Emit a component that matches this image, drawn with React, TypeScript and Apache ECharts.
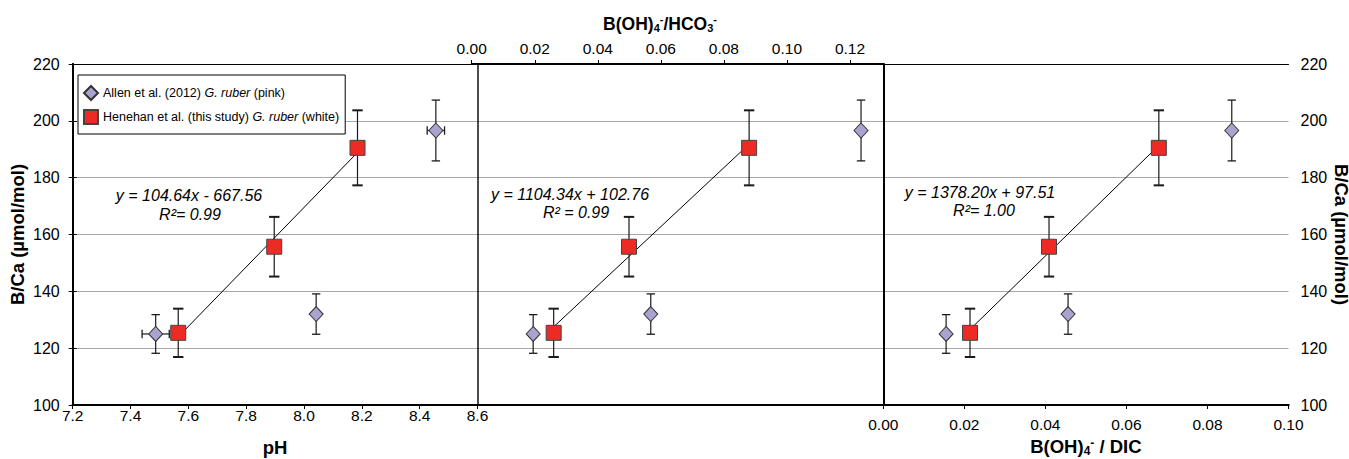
import React, { useEffect, useRef } from "react";
import * as echarts from "echarts";

const FONT = "'Liberation Sans', Arial, Helvetica, sans-serif";

// ---- Data ----
const allenName = "Allen et al. (2012) G. ruber (pink)";
const henehanName = "Henehan et al. (this study) G. ruber (white)";

const henehanBCa = [125.4, 155.7, 190.5];
const henehanErr = [8.5, 10.5, 13.2];
const henehanPH = [7.565, 7.897, 8.185];
const henehanBorHco3 = [0.026, 0.0499, 0.088];
const henehanBorDic = [0.0214, 0.0409, 0.068];

const allenBCa = [125.0, 132.0, 196.6];
const allenErr = [6.8, 7.1, 10.7];
const allenPH = [7.487, 8.042, 8.456];
const allenPHErr = [0.047, 0, 0.03];
const allenBorHco3 = [0.0195, 0.0568, 0.1235];
const allenBorDic = [0.0155, 0.0456, 0.086];

const eqLines = ["y = 104.64x - 667.56", "y = 1104.34x + 102.76", "y = 1378.20x + 97.51"];
const r2Lines = ["R²= 0.99", "R² = 0.99", "R²= 1.00"];

const yMin = 100;
const yMax = 220;
const yStep = 20;

function fit(xs: number[], ys: number[]) {
  const n = xs.length;
  const mx = xs.reduce((a, b) => a + b, 0) / n;
  const my = ys.reduce((a, b) => a + b, 0) / n;
  let sxy = 0;
  let sxx = 0;
  for (let i = 0; i < n; i++) {
    sxy += (xs[i] - mx) * (ys[i] - my);
    sxx += (xs[i] - mx) * (xs[i] - mx);
  }
  const slope = sxy / sxx;
  const icpt = my - slope * mx;
  const x0 = Math.min(...xs);
  const x1 = Math.max(...xs);
  return [
    [x0, slope * x0 + icpt],
    [x1, slope * x1 + icpt],
  ];
}

function errRender(capHalf: number, capWidth: number) {
  return (params: any, api: any) => {
    const x = api.value(0);
    const y = api.value(1);
    const ey = api.value(2);
    const ex = api.value(3);
    const top = api.coord([x, y + ey]);
    const bot = api.coord([x, y - ey]);
    const stem = { stroke: "#1a1a1a", lineWidth: 1.2 };
    const capS = { stroke: "#1a1a1a", lineWidth: capWidth };
    const children: any[] = [
      { type: "line", shape: { x1: top[0], y1: top[1], x2: bot[0], y2: bot[1] }, style: stem },
      { type: "line", shape: { x1: top[0] - capHalf, y1: top[1], x2: top[0] + capHalf, y2: top[1] }, style: capS },
      { type: "line", shape: { x1: bot[0] - capHalf, y1: bot[1], x2: bot[0] + capHalf, y2: bot[1] }, style: capS },
    ];
    if (ex > 0) {
      const l = api.coord([x - ex, y]);
      const r = api.coord([x + ex, y]);
      children.push(
        { type: "line", shape: { x1: l[0], y1: l[1], x2: r[0], y2: r[1] }, style: stem },
        { type: "line", shape: { x1: l[0], y1: l[1] - capHalf, x2: l[0], y2: l[1] + capHalf }, style: capS },
        { type: "line", shape: { x1: r[0], y1: r[1] - capHalf, x2: r[0], y2: r[1] + capHalf }, style: capS }
      );
    }
    return { type: "group", children };
  };
}

function subRich(main: number, small: number) {
  return {
    b: { fontSize: main, fontWeight: "bold", fontFamily: FONT, lineHeight: 20, fill: "#000", color: "#000" },
    sub: { fontSize: small, fontWeight: "bold", fontFamily: FONT, lineHeight: 10, verticalAlign: "bottom", fill: "#000", color: "#000" },
    sup: { fontSize: small, fontWeight: "bold", fontFamily: FONT, lineHeight: 10, verticalAlign: "top", fill: "#000", color: "#000" },
  };
}

export default function App() {
  const ref = useRef<HTMLDivElement>(null);

  useEffect(() => {
    if (!ref.current) return;
    const chart = echarts.init(ref.current, undefined, { renderer: "svg" });

    const top = 64;
    const h = 341;
    const x0 = 72.7;
    const xDiv1 = 477.5;
    const xTop0 = 471.7;
    const xDiv2 = 883.3;
    const xRight = 1288.5;
    const topAxisMax = (xDiv2 - xTop0) / ((850 - xTop0) / 0.12);

    const panels = [
      { hx: henehanPH, ax: allenPH, axErr: allenPHErr },
      { hx: henehanBorHco3, ax: allenBorHco3, axErr: [0, 0, 0] },
      { hx: henehanBorDic, ax: allenBorDic, axErr: [0, 0, 0] },
    ];

    const series: any[] = [];
    panels.forEach((p, i) => {
      const xi = i + 2;
      series.push({
        type: "line",
        xAxisIndex: xi,
        yAxisIndex: xi,
        data: fit(p.hx, henehanBCa),
        symbol: "none",
        silent: true,
        lineStyle: { color: "#000", width: 1 },
        z: 2,
      });
      series.push({
        type: "custom",
        xAxisIndex: xi,
        yAxisIndex: xi,
        renderItem: errRender(4.2, 1.3),
        data: p.ax.map((x, k) => [x, allenBCa[k], allenErr[k], p.axErr[k]]),
        encode: { x: 0, y: 1 },
        silent: true,
        z: 3,
      });
      series.push({
        type: "custom",
        xAxisIndex: xi,
        yAxisIndex: xi,
        renderItem: errRender(5.2, 2),
        data: p.hx.map((x, k) => [x, henehanBCa[k], henehanErr[k], 0]),
        encode: { x: 0, y: 1 },
        silent: true,
        z: 3,
      });
      series.push({
        type: "scatter",
        name: allenName,
        xAxisIndex: xi,
        yAxisIndex: xi,
        data: p.ax.map((x, k) => [x, allenBCa[k]]),
        symbol: "diamond",
        symbolSize: [14, 15],
        itemStyle: { color: "#AAA3CF", borderColor: "#333", borderWidth: 1, opacity: 1 },
        z: 4,
      });
      series.push({
        type: "scatter",
        name: henehanName,
        xAxisIndex: xi,
        yAxisIndex: xi,
        data: p.hx.map((x, k) => [x, henehanBCa[k]]),
        symbol: "rect",
        symbolSize: 15,
        itemStyle: { color: "#EE2A24", borderColor: "#444", borderWidth: 1, opacity: 1 },
        z: 5,
      });
    });

    const hidden = { show: false };
    const yBase = { type: "value", min: yMin, max: yMax, interval: yStep };

    const graphics: any[] = [];
    const eqPos = [
      [189, 195, 190, 214],
      [570, 194, 576, 212],
      [980, 192, 984, 210],
    ];
    eqPos.forEach((pp, i) => {
      graphics.push({
        type: "text",
        x: pp[0],
        y: pp[1],
        z: 10,
        style: { text: eqLines[i], fill: "#000", fontSize: 16, fontStyle: "italic", fontFamily: FONT, align: "center", verticalAlign: "middle" },
      });
      graphics.push({
        type: "text",
        x: pp[2],
        y: pp[3],
        z: 10,
        style: { text: r2Lines[i], fill: "#000", fontSize: 16, fontStyle: "italic", fontFamily: FONT, align: "center", verticalAlign: "middle" },
      });
    });
    // top axis title, centred over the 0.00–0.12 tick range
    graphics.push({
      type: "text",
      x: 660,
      y: 23.5,
      z: 10,
      style: {
        text: "{b|B(OH)}{sub|4}{sup|-}{b|/HCO}{sub|3}{sup|-}",
        rich: subRich(17.5, 11),
        fill: "#000",
        fontSize: 17.5,
        fontWeight: "bold",
        fontFamily: FONT,
        align: "center",
        verticalAlign: "middle",
      },
    });

    const axTitle = { fontSize: 18.5, fontWeight: "bold", color: "#000" };
    const yTitle = { fontSize: 18.5, fontWeight: "bold", color: "#000", lineHeight: 18 };
    const yTitleR = { fontSize: 18.5, fontWeight: "bold", color: "#000", lineHeight: 14 };
    const gridBase = { top, height: h, containLabel: false, outerBoundsMode: "none" };

    chart.setOption({
      animation: false,
      backgroundColor: "#fff",
      textStyle: { fontFamily: FONT, color: "#000" },
      grid: [
        { ...gridBase, left: x0, width: xRight - x0 },
        { ...gridBase, left: x0, width: xDiv1 - x0 },
        { ...gridBase, left: xTop0, width: xDiv2 - xTop0 },
        { ...gridBase, left: xDiv2, width: xRight - xDiv2 },
      ],
      legend: {
        left: 78,
        top: 75,
        orient: "vertical",
        itemWidth: 14,
        itemHeight: 14,
        itemGap: 8,
        padding: [10, 6, 9, 5],
        borderColor: "#000",
        borderWidth: 1,
        backgroundColor: "#fff",
        selectedMode: false,
        z: 20,
        data: [
          { name: allenName, icon: "diamond" },
          { name: henehanName, icon: "rect" },
        ],
        formatter: (name: string) =>
          name === allenName
            ? "Allen et al. (2012) {i|G. ruber} (pink)"
            : "Henehan et al. (this study) {i|G. ruber} (white)",
        textStyle: {
          fontSize: 12.5,
          fontFamily: FONT,
          color: "#000",
          rich: { i: { fontSize: 12.5, fontStyle: "italic", fontFamily: FONT, color: "#000" } },
        },
      },
      xAxis: [
        {
          gridIndex: 0,
          type: "value",
          min: 0,
          max: 1,
          position: "bottom",
          axisLine: { show: true, lineStyle: { color: "#000", width: 2 } },
          axisTick: hidden,
          axisLabel: hidden,
          splitLine: hidden,
        },
        {
          gridIndex: 0,
          type: "value",
          min: 0,
          max: 1,
          position: "top",
          axisLine: { show: true, lineStyle: { color: "#000", width: 1 } },
          axisTick: hidden,
          axisLabel: hidden,
          splitLine: hidden,
        },
        {
          gridIndex: 1,
          type: "value",
          min: 7.2,
          max: 8.6,
          interval: 0.2,
          position: "bottom",
          axisLine: { show: true, lineStyle: { color: "#000", width: 2 } },
          axisTick: { show: true, length: 4, lineStyle: { color: "#000" } },
          axisLabel: { fontSize: 15.5, margin: 3, lineHeight: 15, color: "#000", formatter: (v: number) => v.toFixed(1) },
          splitLine: hidden,
          name: "pH",
          nameLocation: "middle",
          nameGap: 33,
          nameMoveOverlap: false,
          nameTextStyle: axTitle,
        },
        {
          gridIndex: 2,
          type: "value",
          min: 0,
          max: topAxisMax,
          interval: 0.02,
          position: "top",
          axisLine: { show: true, lineStyle: { color: "#000", width: 2 } },
          axisTick: { show: true, length: 4, lineStyle: { color: "#000" } },
          axisLabel: {
            fontSize: 15.5,
            margin: 8,
            lineHeight: 15,
            color: "#000",
            showMaxLabel: false,
            formatter: (v: number) => (Math.abs(v / 0.02 - Math.round(v / 0.02)) < 1e-6 ? v.toFixed(2) : ""),
          },
          splitLine: hidden,
        },
        {
          gridIndex: 3,
          type: "value",
          min: 0,
          max: 0.1,
          interval: 0.02,
          position: "bottom",
          axisLine: { show: true, lineStyle: { color: "#000", width: 2 } },
          axisTick: { show: true, length: 4, lineStyle: { color: "#000" } },
          axisLabel: { fontSize: 15.5, margin: 11.5, lineHeight: 15, color: "#000", formatter: (v: number) => v.toFixed(2) },
          splitLine: hidden,
          name: "{b|B(OH)}{sub|4}{sup|-}{b| / DIC}",
          nameLocation: "middle",
          nameGap: 31.5,
          nameMoveOverlap: false,
          nameTextStyle: { ...axTitle, lineHeight: 20, rich: subRich(18.5, 12) },
        },
      ],
      yAxis: [
        {
          ...yBase,
          gridIndex: 0,
          position: "left",
          axisLine: { show: true, lineStyle: { color: "#000", width: 2 } },
          axisTick: { show: true, length: 4, lineStyle: { color: "#000" } },
          axisLabel: { fontSize: 16, margin: 13, lineHeight: 14, color: "#000" },
          splitLine: { show: true, lineStyle: { color: "#a8a8a8", width: 1.2 } },
          name: "B/Ca (µmol/mol)",
          nameLocation: "middle",
          nameGap: 46,
          nameMoveOverlap: false,
          nameRotate: 90,
          nameTextStyle: yTitle,
        },
        {
          ...yBase,
          gridIndex: 0,
          position: "right",
          axisLine: { show: true, lineStyle: { color: "#000", width: 2 } },
          axisTick: { show: true, length: 4, lineStyle: { color: "#000" } },
          axisLabel: { fontSize: 16, margin: 12, lineHeight: 14, color: "#000" },
          splitLine: hidden,
          name: "B/Ca (µmol/mol)",
          nameLocation: "middle",
          nameGap: 45.5,
          nameMoveOverlap: false,
          nameRotate: -90,
          nameTextStyle: yTitleR,
        },
        {
          ...yBase,
          gridIndex: 1,
          position: "right",
          axisLine: { show: true, lineStyle: { color: "#111", width: 1.5 } },
          axisTick: hidden,
          axisLabel: hidden,
          splitLine: hidden,
        },
        {
          ...yBase,
          gridIndex: 2,
          show: false,
          splitLine: hidden,
        },
        {
          ...yBase,
          gridIndex: 3,
          position: "left",
          axisLine: { show: true, lineStyle: { color: "#000", width: 2 } },
          axisTick: hidden,
          axisLabel: hidden,
          splitLine: hidden,
        },
      ],
      series,
      graphic: graphics,
    });

    return () => chart.dispose();
  }, []);

  return (
    <div
      ref={ref}
      style={{ position: "fixed", left: 0, top: 0, width: 1349, height: 459, background: "#fff" }}
    />
  );
}
